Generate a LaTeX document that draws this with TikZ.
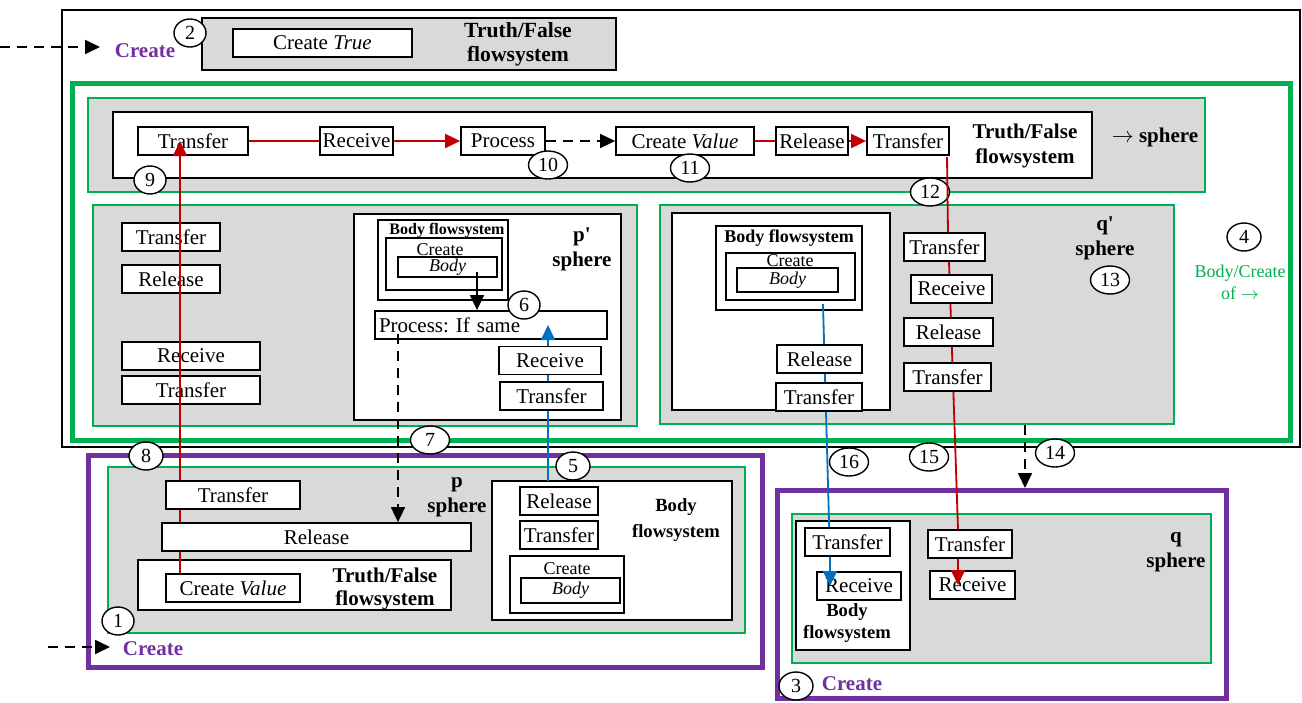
\documentclass[tikz,border=0pt]{standalone}
\usepackage{fontspec}
\setmainfont{Liberation Serif}
\usetikzlibrary{shapes.geometric,arrows.meta,positioning}
\definecolor{flowgreen}{RGB}{0,176,80}
\definecolor{flowpurple}{RGB}{112,48,160}
\definecolor{flowred}{RGB}{192,0,0}
\definecolor{flowblue}{RGB}{0,112,192}
\definecolor{spheregray}{RGB}{217,217,217}
\pgfdeclarelayer{background}
\pgfdeclarelayer{lines}
\pgfsetlayers{background,lines,main}

\begin{document}
\begin{tikzpicture}[x=0.5pt,y=-0.5pt,
      fbox/.style={rectangle, draw=black, line width=0.9pt, fill=white, minimum height=14pt, inner sep=1pt, font=\fontsize{10.5}{11}\selectfont},
      bodybox/.style={fbox, minimum height=11pt, font=\fontsize{9}{10}\selectfont\itshape},
      nr/.style={ellipse, draw=black, line width=0.7pt, fill=white, minimum width=19.5pt, minimum height=14pt, inner sep=0pt, font=\fontsize{10}{11}\selectfont},
      lbl/.style={align=center, inner sep=0pt, font=\fontsize{10.5}{12.5}\selectfont\bfseries},
      small/.style={align=center, inner sep=0pt, font=\fontsize{9}{10}\selectfont},
      spherebox/.style={draw=flowgreen, line width=1.1pt, fill=spheregray},
      whitebox/.style={draw=black, line width=0.9pt, fill=white},
      purplebox/.style={draw=flowpurple, line width=2.5pt, fill=white},
      pfeil/.style={-{Triangle[length=7.5pt,width=7pt]}},
      rpfeil/.style={pfeil, draw=flowred, fill=flowred, line width=0.9pt},
      rline/.style={draw=flowred, line width=0.9pt},
      bpfeil/.style={pfeil, draw=flowblue, fill=flowblue, line width=0.9pt},
      bline/.style={draw=flowblue, line width=0.9pt},
      dpfeil/.style={pfeil, dashed, dash pattern=on 5pt off 3.5pt, line width=0.9pt}]

\useasboundingbox (0,0) rectangle (1302,702);

\begin{pgfonlayer}{background}
\fill[white] (0,0) rectangle (1302,702);
\draw[line width=0.75pt] (62,10) rectangle (1300,447);
\draw[fill=spheregray, line width=0.9pt] (202,18) rectangle (616,70);
\draw[draw=flowgreen, line width=2.5pt] (72,83) rectangle (1290,440);
\draw[spherebox] (88,98) rectangle (1205,192);
\draw[whitebox] (113,112) rectangle (1092,178);
\draw[spherebox] (93,205) rectangle (637,426);
\draw[whitebox] (354,214) rectangle (621,420);
\draw[whitebox] (378,220) rectangle (508,300);
\draw[whitebox] (386,238) rectangle (502,290);
\draw[spherebox] (660,205) rectangle (1174,424);
\draw[whitebox] (672,213) rectangle (890,410);
\draw[whitebox] (716,226) rectangle (862,310);
\draw[whitebox] (726,253) rectangle (855,300);
\draw[purplebox] (88,455) rectangle (762,667);
\draw[spherebox] (108,467) rectangle (745,633);
\draw[whitebox] (138,560) rectangle (451,610);
\draw[whitebox] (492,481) rectangle (732,620);
\draw[whitebox] (510,556) rectangle (624,613);
\draw[purplebox] (777,490) rectangle (1226,698);
\draw[spherebox] (792,514) rectangle (1211,663);
\draw[whitebox] (796,521) rectangle (910,650);
\end{pgfonlayer}

\node[lbl, text=flowpurple] (createTop) at (145,51) {Create};
\node[nr, minimum width=16pt] (n2) at (190,33) {2};
\node[fbox, minimum width=89.5pt] (createTrue) at (322.5,43) {Create \textit{True}};
\node[lbl, font=\fontsize{10.8}{12}\selectfont\bfseries] (tfTop) at (518,44) {Truth/False\\flowsystem};

\node[fbox, minimum width=55pt] (tTransfer) at (193,141) {Transfer};
\node[fbox, minimum width=36.5pt] (tReceive) at (356.5,141) {Receive};
\node[fbox, minimum width=42pt] (tProcess) at (503,141) {Process};
\node[fbox, minimum width=69pt] (tCreate) at (685,141) {Create \textit{Value}};
\node[fbox, minimum width=36pt] (tRelease) at (812,141) {Release};
\node[fbox, minimum width=41pt] (tTransferB) at (908,141) {Transfer};
\node[lbl] (tfMid) at (1025,146) {Truth/False\\flowsystem};
\node[lbl] (arrSphere) at (1155,137) {$\rightarrow$ sphere};
\node[nr, minimum width=16pt] (n9) at (150,180) {9};
\node[nr] (n10) at (548,165) {10};
\node[nr] (n11) at (690,168) {11};
\node[nr] (n12) at (930,192) {12};

\node[fbox, minimum width=49pt] (lTransfer) at (171,237) {Transfer};
\node[fbox, minimum width=49pt] (lRelease) at (171,279) {Release};
\node[fbox, minimum width=69pt] (lReceive) at (191,356) {Receive};
\node[fbox, minimum width=69pt] (lTransferB) at (191,390) {Transfer};

\node[small, font=\fontsize{8}{9}\selectfont\bfseries] (pBodyFs) at (447,231) {Body flowsystem};
\node[small] (pCreate) at (440,250) {Create};
\node[bodybox, minimum width=49.5pt, minimum height=10pt] (pBody) at (447.5,267) {Body};
\node[lbl] (pdSphere) at (582,249) {p\textquotesingle\\sphere};
\node[fbox, text width=112pt, align=left, inner xsep=2pt] (pProcess) at (491,325) {Process:\ If same};
\node[fbox, minimum width=51pt] (pReceive) at (550,360.5) {Receive};
\node[fbox, minimum width=51.5pt] (pTransfer) at (551.5,396) {Transfer};
\node[nr, minimum width=16pt] (n6) at (524,305) {6};

\node[small, font=\fontsize{9}{10}\selectfont\bfseries] (qBodyFs) at (789,238) {Body flowsystem};
\node[small] (qCreate) at (790,261) {Create};
\node[bodybox, minimum width=50.5pt, minimum height=12pt] (qBody) at (787.5,280) {Body};
\node[fbox, minimum width=42.5pt] (qRelease) at (819.5,359) {Release};
\node[fbox, minimum width=43pt] (qTransfer) at (819,397) {Transfer};
\node[fbox, minimum width=40.5pt] (cTransfer) at (944.5,247) {Transfer};
\node[fbox, minimum width=40.5pt] (cReceive) at (951.5,289) {Receive};
\node[fbox, minimum width=44.5pt] (cRelease) at (948.5,332) {Release};
\node[fbox, minimum width=43.5pt] (cTransferB) at (947.5,377) {Transfer};
\node[lbl] (qdSphere) at (1105,238) {q\textquotesingle\\sphere};
\node[nr] (n13) at (1110,280) {13};
\node[nr, minimum width=17pt] (n4) at (1244,237) {4};
\node[small, text=flowgreen, font=\fontsize{9}{11}\selectfont] (bodyOf) at (1240,282) {Body/Create\\of $\rightarrow$};

\node[nr] (n7) at (430,440) {7};
\node[nr, minimum width=17pt] (n8) at (146,456) {8};
\node[nr, minimum width=17pt] (n5) at (573,466) {5};
\node[nr] (n14) at (1055,453) {14};
\node[nr] (n15) at (929,457) {15};
\node[nr] (n16) at (849,462) {16};

\node[fbox, minimum width=67pt] (bTransfer) at (233,495) {Transfer};
\node[fbox, minimum width=154.5pt] (bRelease) at (316.5,537) {Release};
\node[fbox, minimum width=67pt] (bCreate) at (233,588) {Create \textit{Value}};
\node[lbl, font=\fontsize{10.5}{11.5}\selectfont\bfseries] (tfBot) at (385,589) {Truth/False\\flowsystem};
\node[lbl] (pSphere) at (457,497) {p\\sphere};
\node[fbox, minimum width=39pt] (bbRelease) at (559,501) {Release};
\node[fbox, minimum width=39pt] (bbTransfer) at (559,535) {Transfer};
\node[small] (bbCreate) at (567,569) {Create};
\node[bodybox, minimum width=49.5pt, minimum height=12.5pt] (bbBody) at (570.5,590.5) {Body};
\node[lbl, font=\fontsize{9.3}{13}\selectfont\bfseries] (bbLabel) at (676,520) {Body\\flowsystem};
\node[nr, minimum width=16pt] (n1) at (118,621) {1};
\node[lbl, text=flowpurple] (createBot) at (153,649) {Create};

\node[fbox, minimum width=42.5pt] (rTransfer) at (847.5,542) {Transfer};
\node[fbox, minimum width=42pt] (rReceive) at (859,586) {Receive};
\node[lbl, font=\fontsize{9.3}{11}\selectfont\bfseries] (rLabel) at (847,623) {Body\\flowsystem};
\node[fbox, minimum width=42pt] (rTransferB) at (970,544) {Transfer};
\node[fbox, minimum width=42.5pt] (rReceiveB) at (972.5,585) {Receive};
\node[lbl] (qSphere) at (1176,552) {q\\sphere};
\node[nr, minimum width=17pt] (n3) at (796,686) {3};
\node[lbl, text=flowpurple] (createQ) at (852,684) {Create};

\coordinate (redx) at (180,0);
\coordinate (redTop) at (947,157);
\coordinate (redBot) at (958,0);
\coordinate (blueP) at (548,481);
\coordinate (blueQ) at (823,304);
\coordinate (blueQx) at (830,0);
\coordinate (pDown) at (477,272);
\coordinate (pDash) at (398,334);
\coordinate (qDash) at (1025,425);
\coordinate (qDashEnd) at (1025,488);
\coordinate (inTop) at (0,47);
\coordinate (inTopEnd) at (100,47);
\coordinate (inBot) at (48,647);
\coordinate (inBotEnd) at (110,647);

\begin{pgfonlayer}{lines}
\draw[rline] (bCreate.north -| redx) -- (bTransfer.north -| redx);
\draw[bline] (blueP) -- (pReceive.north -| blueP);
\draw[bline] (blueQ) -- (rTransfer.south -| blueQx);
\end{pgfonlayer}

\draw[rline] (redTop) -- (cTransfer.north -| 948,0);
\begin{pgfonlayer}{lines}
\draw[rline] (cTransfer.north -| 948,0) -- (rTransferB.north -| redBot);
\end{pgfonlayer}

\draw[rpfeil] (bTransfer.north -| redx) -- (tTransfer.center -| redx);
\draw[rline] (tTransfer) -- (tReceive);
\draw[rpfeil] (tReceive) -- (tProcess);
\draw[dpfeil] (tProcess) -- (tCreate);
\draw[rline] (tCreate) -- (tRelease);
\draw[rpfeil] (tRelease) -- (tTransferB);
\draw[rpfeil] (rTransferB.south -| redBot) -- (rReceiveB.center -| redBot);
\draw[bpfeil] (pReceive.north -| blueP) -- (pProcess.center -| blueP);
\draw[bpfeil] (rTransfer.south -| blueQx) -- (rReceive.center -| blueQx);
\draw[pfeil, line width=0.9pt] (pDown) -- (pDown |- pProcess.north);
\draw[dpfeil] (pDash) -- (pDash |- bRelease.north);
\draw[dpfeil] (qDash) -- (qDashEnd);
\draw[dpfeil] (inTop) -- (inTopEnd);
\draw[dpfeil] (inBot) -- (inBotEnd);

\end{tikzpicture}
\end{document}
